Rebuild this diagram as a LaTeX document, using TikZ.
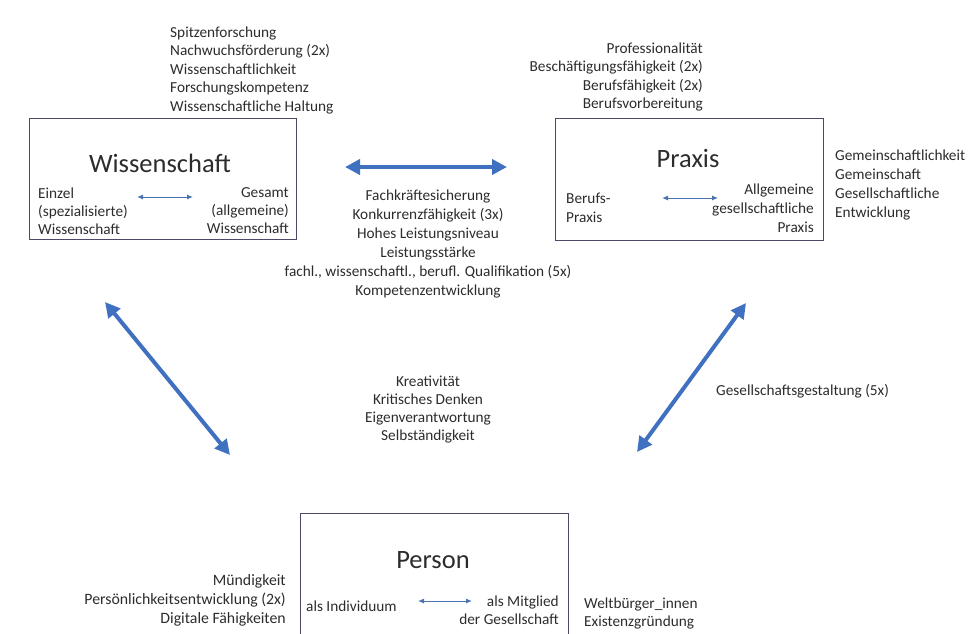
\documentclass[tikz,border=0pt]{standalone}
\usepackage{fontspec}
\setmainfont{Carlito}
\usetikzlibrary{arrows.meta}
\definecolor{txtgray}{HTML}{2C2C2C}
\definecolor{boxcol}{HTML}{4A4A66}
\definecolor{bigblue}{HTML}{4070C0}
\definecolor{smallblue}{HTML}{4A74AE}
\tikzset{
  txt/.style={font=\fontsize{15.3}{18.5}\selectfont, text=txtgray, inner sep=0pt},
  ttl/.style={font=\fontsize{26.5}{30}\selectfont, text=txtgray, inner sep=0pt},
  boxnode/.style={draw=boxcol, line width=1.2pt, inner sep=0pt, anchor=north west},
  bigarrow/.style={draw=bigblue, line width=4pt, {Triangle[length=15pt,width=15pt]}-{Triangle[length=15pt,width=15pt]}},
  smallarrow/.style={draw=smallblue, line width=1pt, {Latex[length=6pt,width=5pt]}-{Latex[length=6pt,width=5pt]}}
}
\begin{document}
\begin{tikzpicture}[x=1pt,y=-1pt]
\useasboundingbox (0,0) rectangle (976,633);
\clip (0,0) rectangle (976,633);

% boxes
\node[boxnode, minimum width=267pt, minimum height=121pt] (wbox) at (29,118) {};
\node[boxnode, minimum width=268pt, minimum height=122pt] (pbox) at (555,118) {};
\node[boxnode, minimum width=268pt, minimum height=160pt] (persbox) at (300,513) {};

% titles
\node[ttl] (wtitle) at (160,163) {Wissenschaft};
\node[ttl] (ptitle) at (688,158) {Praxis};
\node[ttl] (perstitle) at (433,560) {Person};

% Wissenschaft box content
\node[txt, anchor=north west, align=left, font=\fontsize{15.3}{18}\selectfont] (weinzel) at (38,187.5) {Einzel\\(spezialisierte)\\Wissenschaft};
\node[txt, anchor=north east, align=right, font=\fontsize{15.3}{18}\selectfont] (wgesamt) at (289,187.5) {Gesamt\\(allgemeine)\\Wissenschaft};
\coordinate (wa1) at (137,197);
\coordinate (wa2) at (193,197);
\draw[smallarrow] (wa1) -- (wa2);

% Praxis box content
\node[txt, anchor=north west, align=left, font=\fontsize{15.3}{19}\selectfont] (pberuf) at (566,192.5) {Berufs-\\Praxis};
\node[txt, anchor=north east, align=right, font=\fontsize{15.3}{19}\selectfont] (pallg) at (814,183.5) {Allgemeine\\gesellschaftliche\\Praxis};
\coordinate (pa1) at (662,198);
\coordinate (pa2) at (718,198);
\draw[smallarrow] (pa1) -- (pa2);

% Person box content
\node[txt, anchor=west] (pind) at (306,606) {als Individuum};
\node[txt, anchor=north east, align=right, font=\fontsize{15.3}{18}\selectfont] (pmit) at (559,595.5) {als Mitglied\\der Gesellschaft};
\coordinate (ra1) at (418,601);
\coordinate (ra2) at (472,601);
\draw[smallarrow] (ra1) -- (ra2);

% outer texts
\node[txt, anchor=north west, align=left] (wtop) at (170,26.5) {Spitzenforschung\\Nachwuchsförderung (2x)\\Wissenschaftlichkeit\\Forschungskompetenz\\Wissenschaftliche Haltung};
\node[txt, anchor=north east, align=right] (ptop) at (703,42.5) {Professionalität\\Beschäftigungsfähigkeit (2x)\\Berufsfähigkeit (2x)\\Berufsvorbereitung};
\node[txt, anchor=north west, align=left, font=\fontsize{15.3}{19}\selectfont] (pright) at (835,149.5) {Gemeinschaftlichkeit\\Gemeinschaft\\Gesellschaftliche\\Entwicklung};
\node[txt, anchor=north, align=center, font=\fontsize{15.3}{19}\selectfont] (center) at (428,189.5) {Fachkräftesicherung\\Konkurrenzfähigkeit (3x)\\Hohes Leistungsniveau\\Leistungsstärke\\fachl., wissenschaftl., berufl. Qualifikation (5x)\\Kompetenzentwicklung};
\node[txt, anchor=north, align=center, font=\fontsize{15.3}{18}\selectfont] (mid) at (428,375.5) {Kreativität\\Kritisches Denken\\Eigenverantwortung\\Selbständigkeit};
\node[txt, anchor=west] (gg) at (716,391) {Gesellschaftsgestaltung (5x)};
\node[txt, anchor=north east, align=right, font=\fontsize{15.8}{19}\selectfont] (persleft) at (286,574.5) {Mündigkeit\\Persönlichkeitsentwicklung (2x)\\Digitale Fähigkeiten};
\node[txt, anchor=north west, align=left, font=\fontsize{15.3}{18}\selectfont] (persright) at (584,597.5) {Weltbürger\_innen\\Existenzgründung};

% big arrows
\coordinate (h1) at (345,167);
\coordinate (h2) at (507,167);
\coordinate (l1) at (105,302);
\coordinate (l2) at (230,455);
\coordinate (r1) at (746,303);
\coordinate (r2) at (637,452);
\draw[bigarrow] (h1) -- (h2);
\draw[bigarrow] (l1) -- (l2);
\draw[bigarrow] (r1) -- (r2);
\end{tikzpicture}
\end{document}
